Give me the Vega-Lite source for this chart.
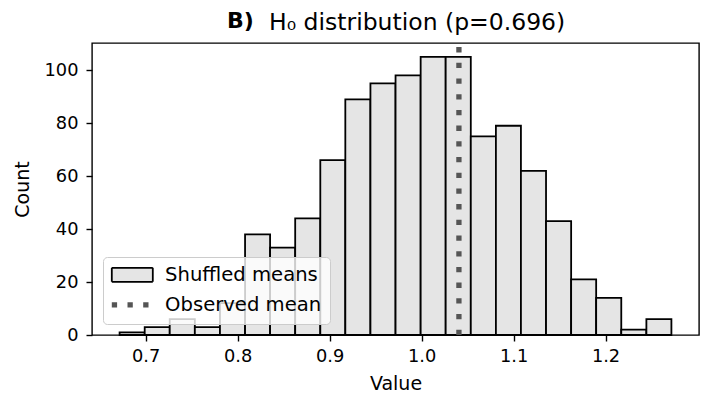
{
  "$schema": "https://vega.github.io/schema/vega-lite/v6.json",
  "width": 607,
  "height": 292,
  "autosize": {"type": "none"},
  "padding": {"left": 92, "top": 43, "right": 3, "bottom": 58},
  "background": "white",
  "title": {
    "text": "B)",
    "subtitle": "\u200b\u00a0\u00a0\u00a0\u00a0\u00a0\u2009H₀ distribution (p=0.696)",
    "anchor": "start",
    "frame": "group",
    "dx": 135,
    "font": "DejaVu Sans",
    "fontSize": 22,
    "fontWeight": "bold",
    "color": "black",
    "subtitleFont": "DejaVu Sans",
    "subtitleFontSize": 23.5,
    "subtitleFontWeight": "normal",
    "subtitleColor": "black",
    "subtitlePadding": -22.5,
    "offset": 5
  },
  "datasets": {
    "bins": [
      {"series": "Shuffled means", "bin_start": 0.6717, "bin_end": 0.6990, "count": 1},
      {"series": "Shuffled means", "bin_start": 0.6990, "bin_end": 0.7262, "count": 3},
      {"series": "Shuffled means", "bin_start": 0.7262, "bin_end": 0.7535, "count": 6},
      {"series": "Shuffled means", "bin_start": 0.7535, "bin_end": 0.7808, "count": 3},
      {"series": "Shuffled means", "bin_start": 0.7808, "bin_end": 0.8081, "count": 12},
      {"series": "Shuffled means", "bin_start": 0.8081, "bin_end": 0.8353, "count": 38},
      {"series": "Shuffled means", "bin_start": 0.8353, "bin_end": 0.8626, "count": 33},
      {"series": "Shuffled means", "bin_start": 0.8626, "bin_end": 0.8899, "count": 44},
      {"series": "Shuffled means", "bin_start": 0.8899, "bin_end": 0.9171, "count": 66},
      {"series": "Shuffled means", "bin_start": 0.9171, "bin_end": 0.9444, "count": 89},
      {"series": "Shuffled means", "bin_start": 0.9444, "bin_end": 0.9717, "count": 95},
      {"series": "Shuffled means", "bin_start": 0.9717, "bin_end": 0.9990, "count": 98},
      {"series": "Shuffled means", "bin_start": 0.9990, "bin_end": 1.0262, "count": 105},
      {"series": "Shuffled means", "bin_start": 1.0262, "bin_end": 1.0535, "count": 105},
      {"series": "Shuffled means", "bin_start": 1.0535, "bin_end": 1.0808, "count": 75},
      {"series": "Shuffled means", "bin_start": 1.0808, "bin_end": 1.1080, "count": 79},
      {"series": "Shuffled means", "bin_start": 1.1080, "bin_end": 1.1353, "count": 62},
      {"series": "Shuffled means", "bin_start": 1.1353, "bin_end": 1.1626, "count": 43},
      {"series": "Shuffled means", "bin_start": 1.1626, "bin_end": 1.1898, "count": 21},
      {"series": "Shuffled means", "bin_start": 1.1898, "bin_end": 1.2171, "count": 14},
      {"series": "Shuffled means", "bin_start": 1.2171, "bin_end": 1.2444, "count": 2},
      {"series": "Shuffled means", "bin_start": 1.2444, "bin_end": 1.2716, "count": 6}
    ],
    "observed": [
      {"series": "Observed mean", "mean": 1.0406}
    ]
  },
  "layer": [
    {
      "data": {"name": "bins"},
      "mark": {"type": "rect", "opacity": 1},
      "encoding": {
        "x": {
          "field": "bin_start",
          "type": "quantitative",
          "title": "Value",
          "scale": {"domain": [0.6417, 1.3016], "nice": false, "zero": false},
          "axis": {"values": [0.7, 0.8, 0.9, 1.0, 1.1, 1.2], "format": ".1f", "labelFlush": false, "titlePadding": 10}
        },
        "x2": {"field": "bin_end"},
        "y": {
          "field": "count",
          "type": "quantitative",
          "title": "Count",
          "scale": {"domain": [0, 110.25], "nice": false},
          "axis": {"values": [0, 20, 40, 60, 80, 100], "labelPadding": 8, "titlePadding": 12}
        },
        "y2": {"datum": 0},
        "fill": {
          "field": "series",
          "type": "nominal",
          "scale": {"type": "ordinal", "domain": ["Shuffled means", "Observed mean"], "range": ["#e5e5e5", "rgba(0,0,0,0)"]},
          "legend": {"title": null}
        },
        "stroke": {
          "field": "series",
          "type": "nominal",
          "scale": {"type": "ordinal", "domain": ["Shuffled means", "Observed mean"], "range": ["black", "#555555"]},
          "legend": {"title": null}
        },
        "strokeWidth": {
          "field": "series",
          "type": "nominal",
          "scale": {"type": "ordinal", "domain": ["Shuffled means", "Observed mean"], "range": [1.8, 5.3]},
          "legend": {"title": null}
        },
        "strokeDash": {
          "field": "series",
          "type": "nominal",
          "scale": {"type": "ordinal", "domain": ["Shuffled means", "Observed mean"], "range": [[1, 0], [5.3, 10.4]]},
          "legend": {"title": null}
        }
      }
    },
    {
      "data": {"name": "observed"},
      "mark": {"type": "rule", "strokeCap": "butt", "opacity": 1},
      "encoding": {
        "x": {"field": "mean", "type": "quantitative", "title": "Value"},
        "y": {"datum": 0},
        "y2": {"datum": 110.25},
        "stroke": {
          "field": "series",
          "type": "nominal",
          "scale": {"type": "ordinal", "domain": ["Shuffled means", "Observed mean"], "range": ["black", "#555555"]},
          "legend": {"title": null}
        },
        "strokeWidth": {
          "field": "series",
          "type": "nominal",
          "scale": {"type": "ordinal", "domain": ["Shuffled means", "Observed mean"], "range": [1.8, 5.3]},
          "legend": {"title": null}
        },
        "strokeDash": {
          "field": "series",
          "type": "nominal",
          "scale": {"type": "ordinal", "domain": ["Shuffled means", "Observed mean"], "range": [[1, 0], [5.3, 10.4]]},
          "legend": {"title": null}
        }
      }
    },
    {
      "data": {"name": "observed"},
      "mark": {"type": "point", "opacity": 0},
      "encoding": {
        "x": {"field": "mean", "type": "quantitative", "title": "Value"},
        "y": {"datum": 0},
        "shape": {
          "field": "series",
          "type": "nominal",
          "scale": {"type": "ordinal", "domain": ["Shuffled means", "Observed mean"], "range": ["M-4.1,-1.4H4.1V1.4H-4.1Z", "M-4.1,0H4.1"]},
          "legend": {"title": null}
        }
      }
    }
  ],
  "config": {
    "font": "DejaVu Sans",
    "view": {"stroke": "black", "strokeWidth": 1.4},
    "axis": {
      "domain": false,
      "grid": false,
      "ticks": true,
      "tickColor": "black",
      "tickSize": 6,
      "tickWidth": 1.4,
      "labelFont": "DejaVu Sans",
      "labelFontSize": 17.8,
      "labelColor": "black",
      "labelPadding": 6,
      "titleFont": "DejaVu Sans",
      "titleFontSize": 19,
      "titleFontWeight": "normal",
      "titleColor": "black"
    },
    "legend": {
      "orient": "bottom-left",
      "offset": 11,
      "fillColor": "rgba(255,255,255,0.8)",
      "strokeColor": "#cccccc",
      "cornerRadius": 4,
      "padding": 8,
      "labelFont": "DejaVu Sans",
      "labelFontSize": 19.6,
      "labelColor": "black",
      "symbolSize": 100,
      "symbolOffset": 11.5,
      "labelOffset": 23,
      "rowPadding": 8,
      "symbolOpacity": 1
    }
  }
}
